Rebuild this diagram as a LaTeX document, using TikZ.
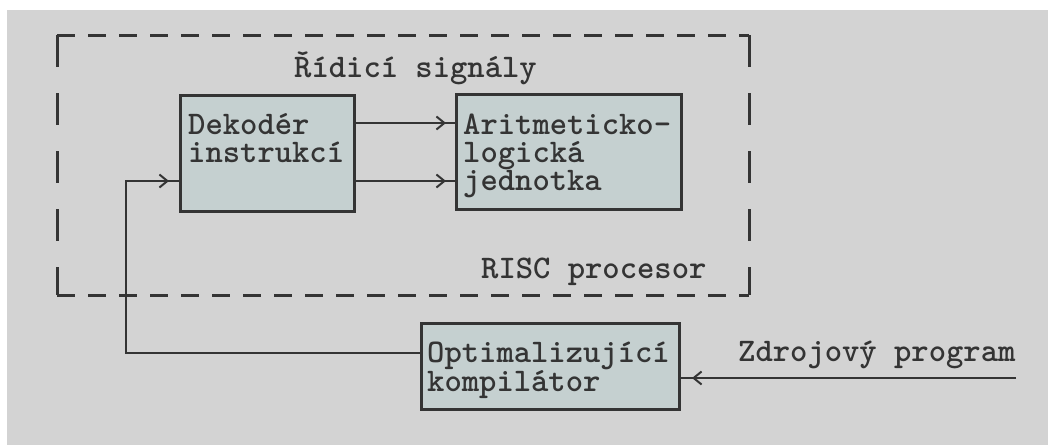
\documentclass[tikz,border=0pt]{standalone}
\usetikzlibrary{arrows.meta,decorations.markings,calc}
\definecolor{paper}{RGB}{211,211,211}
\definecolor{boxfill}{RGB}{197,208,208}
\definecolor{ink}{RGB}{52,52,52}
% stacked lines whose reference point is the first baseline
\newcommand{\lines}[1]{\vtop{\baselineskip=28pt\halign{##\hfil\cr#1\crcr}}}
\tikzset{
  block/.style={draw=ink, line width=3pt, fill=boxfill, anchor=north west, inner sep=0pt},
  label text/.style={font=\ttfamily\bfseries\fontsize{33}{28}\selectfont, text=ink, inner sep=0pt, anchor=base west},
  conn/.style={draw=ink, line width=2.2pt},
  barb/.style={postaction={decorate, decoration={markings,
      mark=at position #1 with {\arrow[line width=2pt]{Straight Barb[length=8pt,width=13pt]}}}}},
  hdash/.style={draw=ink, line width=3pt, dash pattern=on 18pt off 13pt},
  vdash/.style={draw=ink, line width=3pt, dash pattern=on 32pt off 26pt},
}
\begin{document}
\begin{tikzpicture}[x=1pt,y=-1pt]
  % page and grey backdrop
  \fill[white] (0,0) rectangle (1048,445);
  \fill[paper] (7,10) rectangle (1048,445);
  \useasboundingbox (0,0) rectangle (1048,445);

  % processor frame (dashed outline)
  \node[anchor=north west, minimum width=692pt, minimum height=260pt, inner sep=0pt] (risc) at (57,35) {};
  \draw[hdash] (risc.north west) -- (risc.north east);
  \draw[hdash] (risc.south west) -- (risc.south east);
  \draw[vdash] (risc.north west) -- (risc.south west);
  \draw[vdash] (risc.north east) -- (risc.south east);
  \node[label text] (ctrl) at (294,77) {Řídicí signály};
  \node[label text] (rlabel) at (481,278) {RISC procesor};

  % blocks
  \node[block, minimum width=174pt, minimum height=116pt] (dek) at (179,94) {};
  \node[block, minimum width=225pt, minimum height=115pt] (alu) at (455,93) {};
  \node[block, minimum width=258pt, minimum height=86pt] (comp) at (420,322) {};

  \node[label text] (dektext) at (188,134) {\lines{Dekodér\cr instrukcí}};
  \node[label text] (alutext) at (463,134) {\lines{Aritmeticko-\cr logická\cr jednotka}};
  \node[label text] (comptext) at (427,362) {\lines{Optimalizující\cr kompilátor}};
  \node[label text] (srctext) at (738,361) {Zdrojový program};

  % control signals from decoder to ALU
  \draw[conn, barb=-9pt] ([yshift=-29pt]dek.north east) -- ([yshift=-29pt]dek.north east -| alu.west);
  \draw[conn, barb=-9pt] ([yshift=-87pt]dek.north east) -- ([yshift=-87pt]dek.north east -| alu.west);

  % compiled program fed back to the decoder
  \coordinate (bend) at (126,353);
  \draw[conn, barb=-10pt] ([yshift=-31pt]comp.north west) -- (bend) |- ([yshift=-87pt]dek.north west);

  % source program into the compiler
  \coordinate (src) at (1016,378);
  \draw[conn, barb=-11pt] (src) -- (src -| comp.east);
\end{tikzpicture}
\end{document}
